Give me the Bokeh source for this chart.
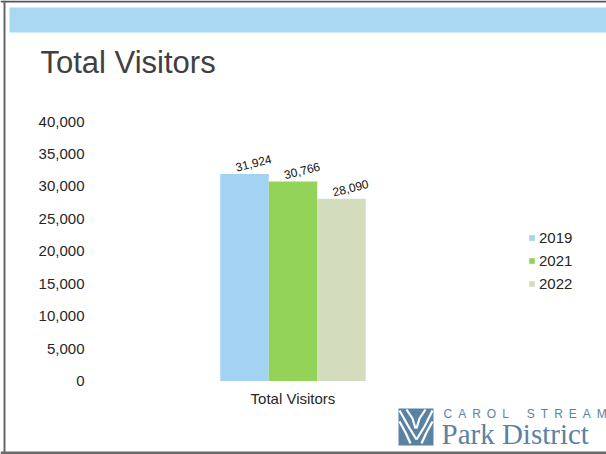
from bokeh.plotting import figure
from bokeh.models import (Range1d, LinearAxis, FixedTicker, NumeralTickFormatter,
                          Legend, LegendItem, ColumnDataSource)
from bokeh.core.properties import value
from bokeh.embed import file_html
from bokeh.resources import INLINE

# ---- data ----
title = "Total Visitors"
category = ["Total Visitors"]
years = ["2019", "2021", "2022"]
visitors = [31924, 30766, 28090]
colors = ["#a3d2f2", "#93d35a", "#d3ddbd"]
y_ticks = [0, 5000, 10000, 15000, 20000, 25000, 30000, 35000, 40000]
logo_top = "CAROL STREAM"
logo_bottom = "Park District"

# ---- layout helpers (pixel -> data) ----
W, H = 606, 454
ZERO_PX, TOP_PX = 380.5, 121.0
K = (ZERO_PX - TOP_PX) / 40000.0
CENTER_PX = 292.5
BAR_PX = 48.5


def dx(px):
    return px - CENTER_PX


def dy(py):
    return (ZERO_PX - py) / K


FONT = "Liberation Sans"
GAP = "\u2002"

p = figure(width=W, height=H, x_range=Range1d(dx(0), dx(W)), y_range=Range1d(dy(H), dy(0)),
           output_backend="svg", toolbar_location=None, min_border=0,
           x_axis_type=None, y_axis_type=None)
p.outline_line_color = None
p.background_fill_color = "white"
p.border_fill_color = "white"

# page decorations
p.quad(left=[dx(9)], right=[dx(W)], top=[dy(7)], bottom=[dy(32)], color="#aad8f2", line_color=None)
p.quad(left=[dx(0)], right=[dx(W)], top=[dy(0)], bottom=[dy(2)], color="#555555", line_color=None)
p.quad(left=[dx(3)], right=[dx(5)], top=[dy(0)], bottom=[dy(H)], color="#666666", line_color=None)
p.quad(left=[dx(0)], right=[dx(W)], top=[dy(451)], bottom=[dy(H)], color="#6a6a6a", line_color=None)

# title
p.text(x=[dx(40)], y=[dy(62)], text=[title], text_font=value(FONT), text_font_size="31px",
       text_color="#404040", text_baseline="middle", text_align="left")

# bars
offsets = [(i - (len(years) - 1) / 2) * BAR_PX for i in range(len(years))]
renderers = []
for i, yr in enumerate(years):
    r = p.vbar(x=[offsets[i]], top=[visitors[i]], bottom=0, width=BAR_PX,
               fill_color=colors[i], line_color=None)
    renderers.append(r)

lab_src = ColumnDataSource(dict(x=offsets, y=visitors,
                                t=[f"{v:,}" for v in visitors]))
p.text(x="x", y="y", text="t", source=lab_src, text_font=value(FONT), text_font_size="12px",
       text_color="#111111", text_align="center", text_baseline="middle",
       angle=0.24, x_offset=9, y_offset=-11)

# y axis
yaxis = LinearAxis(fixed_location=dx(95), ticker=FixedTicker(ticks=y_ticks),
                   formatter=NumeralTickFormatter(format="0,0"))
yaxis.axis_line_color = None
yaxis.major_tick_line_color = None
yaxis.minor_tick_line_color = None
yaxis.major_label_standoff = 5
yaxis.major_label_text_font = FONT
yaxis.major_label_text_font_size = "15px"
yaxis.major_label_text_color = "#262626"
p.add_layout(yaxis, "left")

# x axis (category)
xaxis = LinearAxis(fixed_location=0, ticker=FixedTicker(ticks=[0]),
                   major_label_overrides={0: category[0]})
xaxis.axis_line_color = None
xaxis.major_tick_line_color = None
xaxis.minor_tick_line_color = None
xaxis.major_label_standoff = 3
xaxis.major_label_text_font = FONT
xaxis.major_label_text_font_size = "15px"
xaxis.major_label_text_color = "#262626"
p.add_layout(xaxis, "below")

# legend
legend = Legend(items=[LegendItem(label=yr, renderers=[r]) for yr, r in zip(years, renderers)],
                location=(528, H - 292), orientation="vertical")
legend.glyph_width = 7
legend.glyph_height = 7
legend.label_standoff = 4
legend.label_height = 15
legend.spacing = 6
legend.padding = 0
legend.margin = 0
legend.border_line_color = None
legend.background_fill_alpha = 0
legend.label_text_font = FONT
legend.label_text_font_size = "15px"
legend.label_text_color = "#262626"
p.add_layout(legend, "center")

# logo
LOGO = "#5a82a3"
p.quad(left=[dx(398)], right=[dx(433)], top=[dy(408)], bottom=[dy(445)], color=LOGO, line_color=None)
lines_x = [[dx(399), dx(408), dx(416)], [dx(432), dx(424), dx(416)],
           [dx(399), dx(405), dx(410)], [dx(432), dx(426), dx(421)],
           [dx(406), dx(412), dx(415)], [dx(425), dx(419), dx(416)]]
lines_y = [[dy(410), dy(426), dy(439)], [dy(410), dy(426), dy(439)],
           [dy(421), dy(432), dy(443)], [dy(421), dy(432), dy(443)],
           [dy(409), dy(418), dy(428)], [dy(409), dy(418), dy(428)]]
p.multi_line(xs=lines_x, ys=lines_y, line_color="white", line_width=2.2)
spaced = (GAP * 3).join(GAP.join(word) for word in logo_top.split(" "))
p.text(x=[dx(443)], y=[dy(413.5)], text=[spaced], text_font=value(FONT), text_font_size="12px",
       text_color=LOGO, text_baseline="middle", text_align="left")
p.text(x=[dx(441)], y=[dy(433)], text=[logo_bottom], text_font=value("Liberation Serif"),
       text_font_size="29px", text_color=LOGO, text_baseline="middle", text_align="left")

open("out.html", "w").write(file_html(p, INLINE))
